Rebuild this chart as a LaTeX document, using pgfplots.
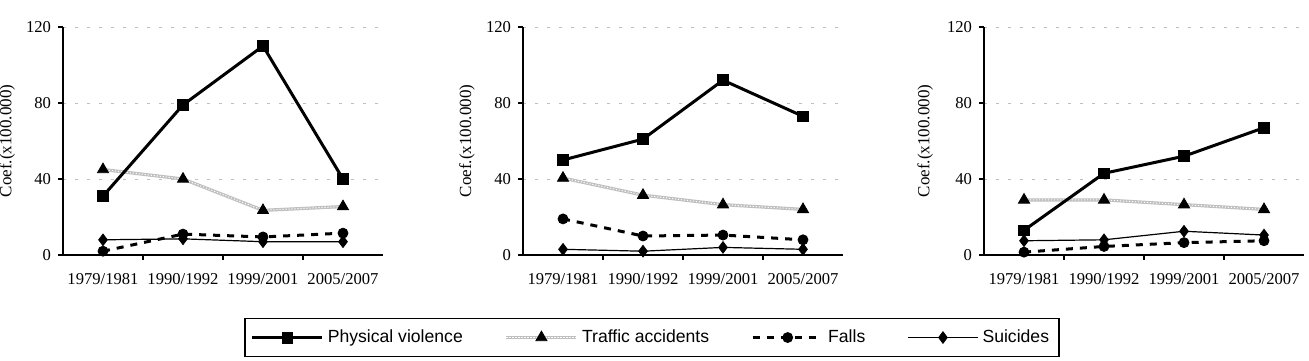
\documentclass[border=0pt]{standalone}
\usepackage{fontspec}
\setmainfont{Liberation Serif}
\newfontfamily\legfont{Liberation Sans}
\usepackage{pgfplots}
\pgfplotsset{compat=1.18}
\pgfplotsset{
  panel/.style={
    scale only axis, width=160pt, height=114pt,
    xmin=-0.5, xmax=3.5, ymin=0, ymax=120,
    axis x line=bottom, axis y line=left,
    axis line style={-, line width=0.75pt},
    tick align=outside, major tick length=2.5pt,
    tick style={black, line width=0.75pt},
    xtick={0.5,1.5,2.5}, xticklabels={},
    extra x ticks={0,1,2,3},
    extra x tick labels={1979/1981,1990/1992,1999/2001,2005/2007},
    extra x tick style={tick style={draw=none}},
    xticklabel style={yshift=-3pt},
    ytick={0,40,80,120},
    ymajorgrids,
    grid style={gray!50, line width=0.5pt, dash pattern=on 1.5pt off 4.5pt},
    tick label style={font=\fontsize{8.3}{9}\selectfont},
    /pgf/number format/assume math mode=true,
    ylabel={Coef.(x100.000)},
    ylabel style={font=\fontsize{8.5}{10}\selectfont, anchor=center},
    legend image code/.code={\draw[mark repeat=2,mark phase=2] plot coordinates {(0pt,0pt) (17.5pt,0pt) (35pt,0pt)};},
  },
  pv/.style={black, line width=1.5pt, mark=square*, mark size=2.7pt, mark options={solid, line width=0.4pt}},
  trl/.style={gray!50, line width=1.6pt, forget plot},
  tro/.style={white, line width=0.5pt, dash pattern=on 0.6pt off 0.9pt, forget plot},
  trm/.style={black, only marks, mark=triangle*, mark size=3.2pt, mark options={solid, line width=0.4pt}, forget plot},
  fa/.style={black, line width=1.5pt, dash pattern=on 3.5pt off 3.5pt, mark=*, mark size=2.5pt, mark options={solid, line width=0.4pt}},
  su/.style={black, line width=0.6pt, mark=diamond*, mark size=2.9pt, mark options={solid, line width=0.4pt}},
}
\begin{document}
\begin{tikzpicture}
\useasboundingbox (0,0) rectangle (654.5pt,180pt);
% Panel 1
\begin{axis}[panel, at={(31.5pt,52.5pt)}, anchor=south west,
  ylabel style={at={(axis description cs:-0.174,0.5)}}]
\addplot[trl] coordinates {(0,45) (1,40) (2,23.5) (3,25.5)};
\addplot[tro] coordinates {(0,45) (1,40) (2,23.5) (3,25.5)};
\addplot[trm] coordinates {(0,45) (1,40) (2,23.5) (3,25.5)};
\addplot[fa, forget plot] coordinates {(0,2) (1,11) (2,9.5) (3,11.5)};
\addplot[su, forget plot] coordinates {(0,8) (1,8.5) (2,7) (3,7)};
\addplot[pv, forget plot] coordinates {(0,31) (1,79) (2,110) (3,40)};
\end{axis}
% Panel 2
\begin{axis}[panel, at={(261.5pt,52.5pt)}, anchor=south west,
  ylabel style={at={(axis description cs:-0.175,0.5)}},
  legend columns=4,
  legend style={at={(axis description cs:0.403,-0.362)}, anchor=center,
    draw=black, line width=0.8pt, font=\legfont\fontsize{8.8}{10}\selectfont,
    inner xsep=3pt, inner ysep=3.5pt,
    nodes={inner xsep=2pt},
    /tikz/every even column/.append style={column sep=19pt}},
  legend cell align=left]
\addlegendimage{pv}
\addlegendentry{Physical violence}
\addlegendimage{legend image code/.code={
  \draw[gray!50,line width=1.6pt] (0pt,0pt) -- (35pt,0pt);
  \draw[white,line width=0.5pt,dash pattern=on 0.6pt off 0.9pt] (0pt,0pt) -- (35pt,0pt);
  \draw[black,fill=black,line width=0.4pt,mark=triangle*,mark size=3.2pt] plot coordinates {(17.5pt,0pt)};
}}
\addlegendentry{Traffic accidents}
\addlegendimage{fa}
\addlegendentry{Falls}
\addlegendimage{su}
\addlegendentry{Suicides}
\addplot[trl] coordinates {(0,40.5) (1,31.5) (2,26.5) (3,24)};
\addplot[tro] coordinates {(0,40.5) (1,31.5) (2,26.5) (3,24)};
\addplot[trm] coordinates {(0,40.5) (1,31.5) (2,26.5) (3,24)};
\addplot[fa, forget plot] coordinates {(0,19) (1,10) (2,10.5) (3,8)};
\addplot[su, forget plot] coordinates {(0,3) (1,2) (2,4) (3,3)};
\addplot[pv, forget plot] coordinates {(0,50) (1,61) (2,92) (3,73)};
\end{axis}
% Panel 3
\begin{axis}[panel, at={(492pt,52.5pt)}, anchor=south west,
  ylabel style={at={(axis description cs:-0.184,0.5)}}]
\addplot[trl] coordinates {(0,29) (1,29) (2,26.5) (3,24)};
\addplot[tro] coordinates {(0,29) (1,29) (2,26.5) (3,24)};
\addplot[trm] coordinates {(0,29) (1,29) (2,26.5) (3,24)};
\addplot[fa, forget plot] coordinates {(0,1.5) (1,4.5) (2,6.5) (3,7.5)};
\addplot[su, forget plot] coordinates {(0,7.5) (1,8) (2,12.5) (3,10.5)};
\addplot[pv, forget plot] coordinates {(0,13) (1,43) (2,52) (3,67)};
\end{axis}
\end{tikzpicture}
\end{document}
